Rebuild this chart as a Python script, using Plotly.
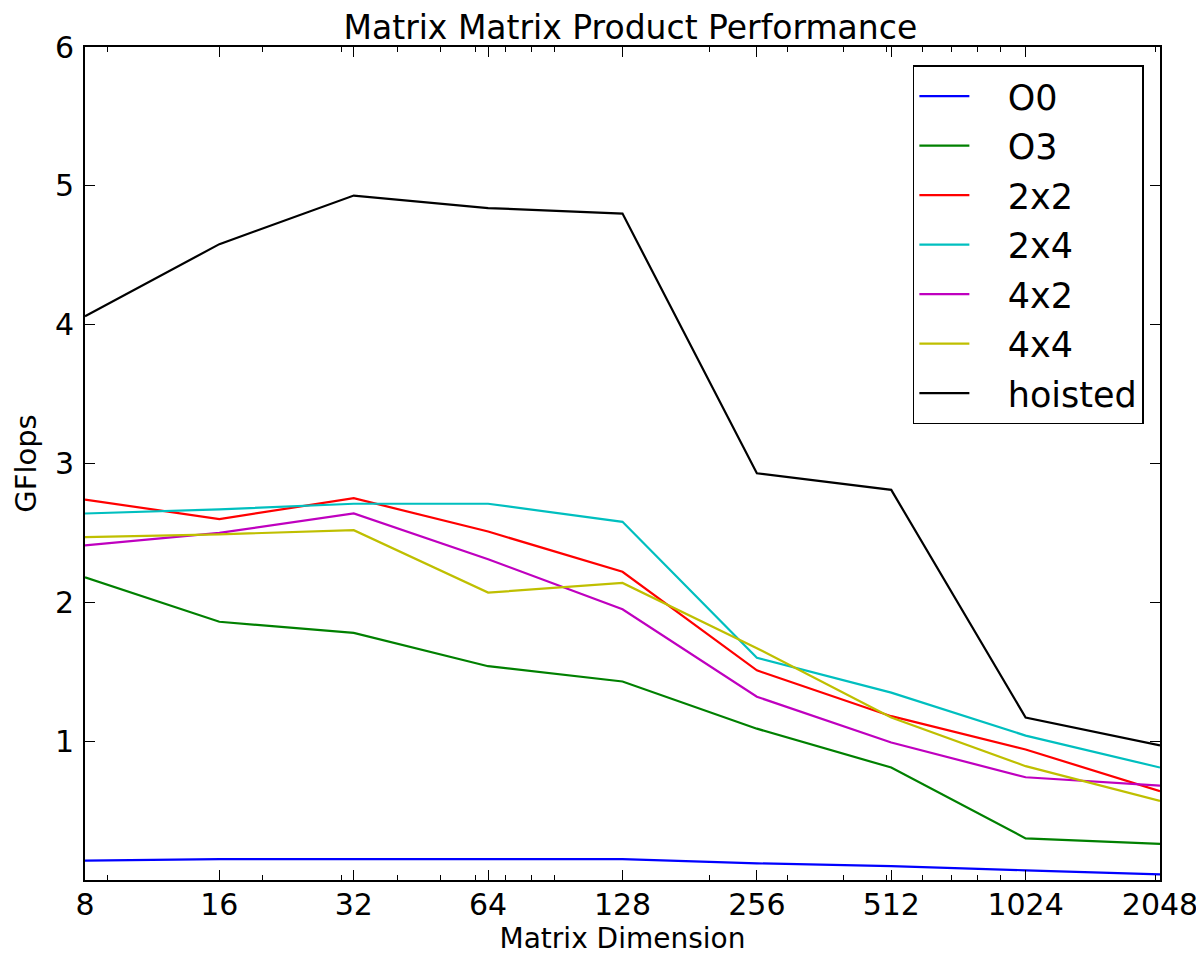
import plotly.graph_objects as go

sizes = [8, 16, 32, 64, 128, 256, 512, 1024, 2048]
o0 = [0.14, 0.15, 0.15, 0.15, 0.15, 0.12, 0.10, 0.07, 0.04]
o3 = [2.18, 1.86, 1.78, 1.54, 1.43, 1.09, 0.81, 0.30, 0.26]
b2x2 = [2.74, 2.60, 2.75, 2.51, 2.22, 1.51, 1.18, 0.94, 0.64]
b2x4 = [2.64, 2.67, 2.71, 2.71, 2.58, 1.60, 1.35, 1.04, 0.81]
b4x2 = [2.41, 2.50, 2.64, 2.31, 1.95, 1.32, 0.99, 0.74, 0.68]
b4x4 = [2.47, 2.49, 2.52, 2.07, 2.14, 1.67, 1.17, 0.82, 0.57]
hoisted = [4.06, 4.58, 4.93, 4.84, 4.80, 2.93, 2.81, 1.17, 0.97]

series = [
    ("O0", o0, "#0000ff"),
    ("O3", o3, "#008000"),
    ("2x2", b2x2, "#ff0000"),
    ("2x4", b2x4, "#00bfbf"),
    ("4x2", b4x2, "#bf00bf"),
    ("4x4", b4x4, "#bfbf00"),
    ("hoisted", hoisted, "#000000"),
]

x_ticks = sizes
x_tick_labels = [str(s) for s in sizes]
x_minor = [9, 20, 30, 40, 50, 60, 70, 80, 90, 200, 300, 400, 500, 600, 700, 800, 900, 2000]
y_ticks = [1, 2, 3, 4, 5, 6]

PAD = "\u00a0\u00a0\u00a0"

fig = go.Figure()
for i, (name, vals, color) in enumerate(series):
    fig.add_trace(go.Scatter(
        x=sizes, y=vals, mode="lines", name=PAD + name,
        line=dict(color=color, width=2.2), legendgroup=f"g{i}",
    ))

font_family = "DejaVu Sans"
fig.update_layout(
    width=1204, height=957,
    paper_bgcolor="white", plot_bgcolor="white",
    margin=dict(l=77, r=52, t=39, b=85),
    font=dict(family=font_family, color="black", size=30),
    title=dict(text="Matrix Matrix Product Performance", x=0.5169, xanchor="center",
               y=0.992, yanchor="top", font=dict(size=33)),
    showlegend=True,
    legend=dict(
        x=0.985, y=0.978, xanchor="right", yanchor="top",
        bgcolor="white", bordercolor="black", borderwidth=1.5,
        font=dict(size=35), itemwidth=50, tracegroupgap=1,
    ),
    xaxis=dict(
        type="log", range=[0.90309, 3.31133],
        tickvals=x_ticks, ticktext=x_tick_labels,
        ticks="inside", ticklen=10, tickwidth=1, tickcolor="black",
        showline=True, linewidth=2, linecolor="black", mirror="ticks",
        showgrid=False, zeroline=False, automargin=False,
        minor=dict(tickvals=x_minor, ticks="inside", ticklen=5, tickcolor="black", showgrid=False),
        title=dict(text="Matrix Dimension", font=dict(size=28), standoff=2),
        tickfont=dict(size=30), ticklabelstandoff=-3,
    ),
    yaxis=dict(
        range=[0, 6], tickvals=y_ticks,
        ticks="inside", ticklen=10, tickwidth=1, tickcolor="black",
        showline=True, linewidth=2, linecolor="black", mirror="ticks",
        showgrid=False, zeroline=False, automargin=False,
        title=dict(text="GFlops", font=dict(size=29), standoff=10),
        tickfont=dict(size=30), ticklabelstandoff=3,
    ),
)

fig.write_html("out.html")
